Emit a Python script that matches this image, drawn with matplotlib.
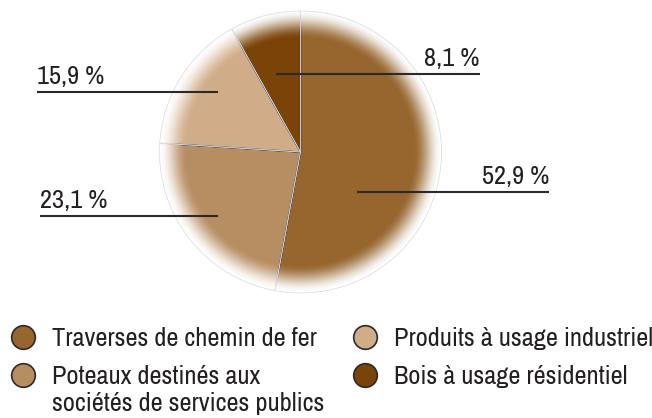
import numpy as np
import matplotlib.pyplot as plt

# --- data ---
categories = ['Traverses de chemin de fer',
              'Poteaux destinés aux\nsociétés de services publics',
              'Produits à usage industriel',
              'Bois à usage résidentiel']
shares = [52.9, 23.1, 15.9, 8.1]
share_labels = ['52,9 %', '23,1 %', '15,9 %', '8,1 %']
colors = ['#97662F', '#B78D62', '#D0AD88', '#7A4409']

plt.rcParams['font.family'] = ['Archivo Narrow', 'DejaVu Sans']
TXT = '#231f20'
W, H = 652, 418

fig = plt.figure(figsize=(W / 100, H / 100), dpi=100)
ax = fig.add_axes([0, 0, 1, 1])

# pie in pixel coordinates (y measured from bottom)
cx, cy, R = 300.5, H - 152, 141
ax.pie(shares, colors=colors, startangle=90, counterclock=False,
       center=(cx, cy), radius=R, frame=True,
       wedgeprops=dict(edgecolor='#333a45', linewidth=1.0, zorder=1))

# soft white fade at the rim
n = 400
xs = np.linspace(cx - 1.1 * R, cx + 1.1 * R, n)
ys = np.linspace(cy - 1.1 * R, cy + 1.1 * R, n)
gx, gy = np.meshgrid(xs, ys)
r = np.hypot(gx - cx, gy - cy) / R
t = np.clip((r - 0.80) / 0.20, 0, 1)
alpha = t * t * (3 - 2 * t)
fade = np.ones((n, n, 4))
fade[..., 3] = alpha
ax.imshow(fade, extent=(xs[0], xs[-1], ys[0], ys[-1]), origin='lower',
          zorder=3, interpolation='bilinear')

# faint outline over the fade
ax.pie(shares, colors=['none'] * 4, startangle=90, counterclock=False,
       center=(cx, cy), radius=R, frame=True,
       wedgeprops=dict(edgecolor='#d6dae0', linewidth=0.5, zorder=4))

# leader lines and percentages: (x0, x1, y, text x, ha)
leaders = [(357, 549, 192, 549, 'right'),
           (40, 218, 216, 40, 'left'),
           (37, 218, 92, 37, 'left'),
           (276, 480, 74, 479, 'right')]
for (x0, x1, y, tx, ha), lab in zip(leaders, share_labels):
    ax.plot([x0, x1], [H - y, H - y], color='#2a2a2a', lw=1.5, zorder=5,
            solid_capstyle='butt')
    ax.text(tx, H - y + 8, lab, ha=ha, va='baseline', fontsize=19,
            color=TXT, zorder=6)

# legend
leg_pos = [(23, 337), (23, 375), (365, 337), (365, 375)]
for (lx, ly), lab, c in zip(leg_pos, categories, colors):
    ax.plot(lx, H - ly, 'o', ms=17, mfc=c, mec='#2a2a2a', mew=1.2, zorder=6)
    lines = lab.split('\n')
    for k, line in enumerate(lines):
        ax.text(lx + 29, H - ly - 9 - 27 * k, line, ha='left', va='baseline',
                fontsize=19, color=TXT)

ax.set_xlim(0, W)
ax.set_ylim(0, H)
ax.set_aspect('equal')
ax.axis('off')

fig.savefig('out.png', dpi=100)
